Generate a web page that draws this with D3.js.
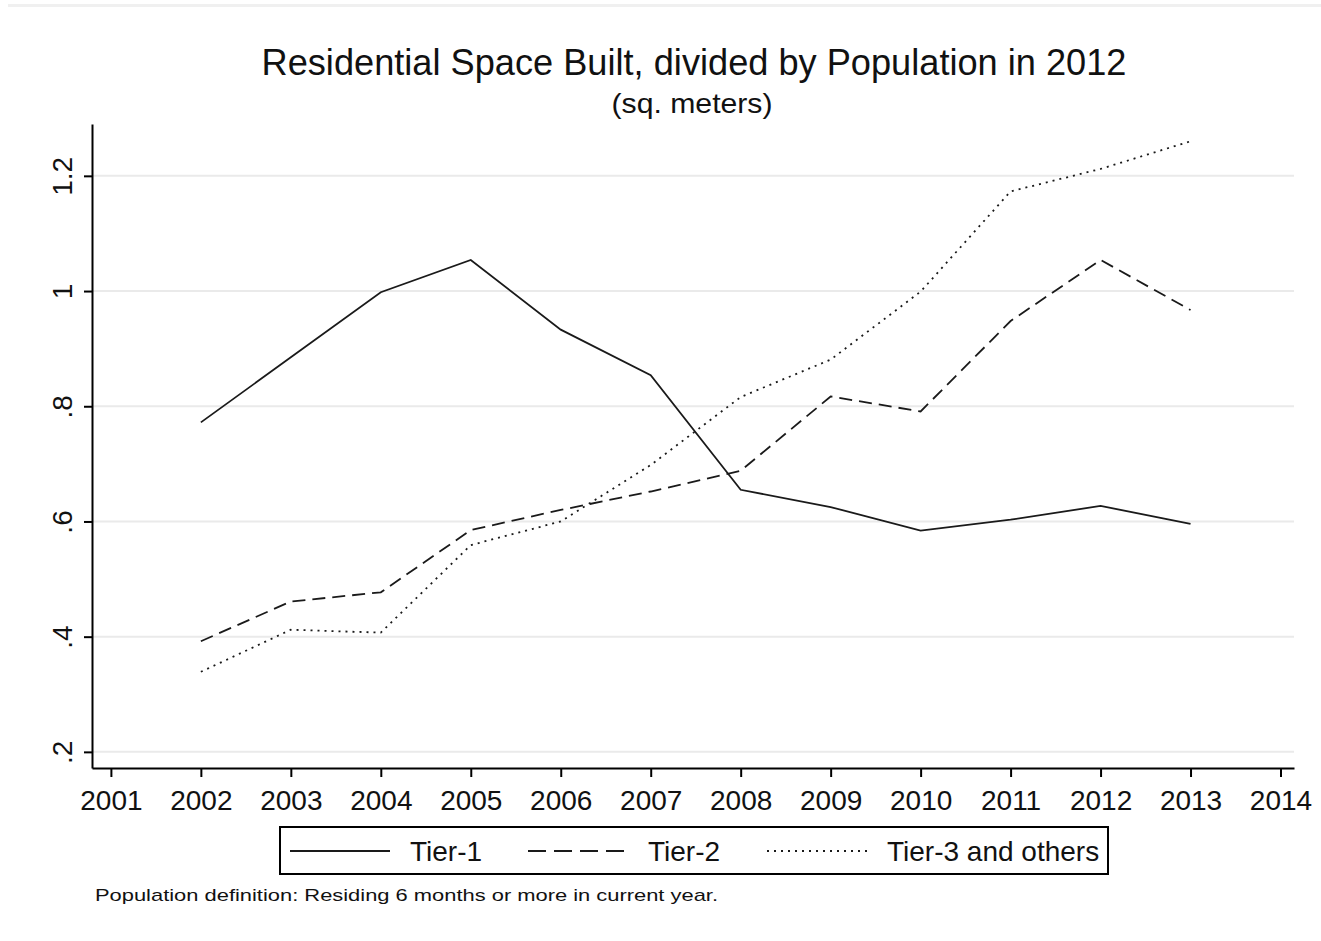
<!DOCTYPE html>
<html>
<head>
<meta charset="utf-8">
<script src="https://cdn.jsdelivr.net/npm/d3@7"></script>
<style>
  body { margin: 0; background: #fff; }
  svg { display: block; font-family: "Liberation Sans", Arial, sans-serif; }
</style>
</head>
<body>
<svg id="chart" width="1321" height="941"></svg>
<script>
const years = [2002, 2003, 2004, 2005, 2006, 2007, 2008, 2009, 2010, 2011, 2012, 2013];
const tier1 = [0.772, 0.885, 0.998, 1.054, 0.933, 0.854, 0.655, 0.625, 0.584, 0.603, 0.627, 0.596];
const tier2 = [0.392, 0.461, 0.477, 0.585, 0.620, 0.652, 0.688, 0.817, 0.791, 0.948, 1.054, 0.967];
const tier3 = [0.339, 0.412, 0.407, 0.559, 0.600, 0.698, 0.816, 0.881, 0.999, 1.173, 1.212, 1.260];
const seriesNames = ["Tier-1", "Tier-2", "Tier-3 and others"];
const xTicks = d3.range(2001, 2015);
const yTicks = [0.2, 0.4, 0.6, 0.8, 1, 1.2];
const yTickLabels = [".2", ".4", ".6", ".8", "1", "1.2"];

const dashes = [null, "13,7", "2,5"];

const svg = d3.select("#chart");

// faint band at the very top
svg.append("rect")
    .attr("x", 8).attr("y", 4).attr("width", 1313).attr("height", 3)
    .attr("fill", "#f0f0f0");

const x = d3.scaleLinear().domain([2000.79, 2014.15]).range([92, 1294]);
const y = d3.scaleLinear().domain([0.172, 1.29]).range([768, 124]);

// title
svg.append("text")
    .attr("x", 694).attr("y", 75)
    .attr("text-anchor", "middle")
    .attr("font-size", 36)
    .attr("fill", "#111")
    .attr("textLength", 865)
    .attr("lengthAdjust", "spacingAndGlyphs")
    .text("Residential Space Built, divided by Population in 2012");
svg.append("text")
    .attr("x", 692).attr("y", 113)
    .attr("text-anchor", "middle")
    .attr("font-size", 28)
    .attr("fill", "#111")
    .attr("textLength", 161)
    .attr("lengthAdjust", "spacingAndGlyphs")
    .text("(sq. meters)");

// gridlines
svg.append("g")
    .selectAll("line")
    .data(yTicks)
    .enter()
    .append("line")
    .attr("x1", 93).attr("x2", 1294)
    .attr("y1", d => y(d)).attr("y2", d => y(d))
    .attr("stroke", "#eaeaea")
    .attr("stroke-width", 2);

// y axis
const yAxis = svg.append("g")
    .attr("transform", "translate(92,0)")
    .call(d3.axisLeft(y).tickValues(yTicks).tickSize(8).tickSizeOuter(0)
        .tickFormat((d, i) => yTickLabels[i]));
yAxis.select(".domain").attr("stroke", "#000").attr("stroke-width", 2);
yAxis.selectAll(".tick line").attr("stroke", "#000").attr("stroke-width", 2);
yAxis.selectAll(".tick text")
    .attr("font-size", 28)
    .attr("fill", "#111")
    .attr("font-family", "'Liberation Sans', Arial, sans-serif")
    .attr("text-anchor", "middle")
    .attr("x", 0).attr("dy", null)
    .attr("transform", "translate(-20,0) rotate(-90)")
    .attr("y", 0);

// x axis
const xAxis = svg.append("g")
    .attr("transform", "translate(0,768)")
    .call(d3.axisBottom(x).tickValues(xTicks).tickSize(9).tickSizeOuter(0)
        .tickFormat(d3.format("d")));
xAxis.select(".domain").attr("stroke", "#000").attr("stroke-width", 2);
xAxis.selectAll(".tick line").attr("stroke", "#000").attr("stroke-width", 2);
xAxis.selectAll(".tick text")
    .attr("font-size", 28)
    .attr("fill", "#111")
    .attr("font-family", "'Liberation Sans', Arial, sans-serif")
    .attr("y", 22);

// lines
const line = d3.line()
    .x((d, i) => x(years[i]))
    .y(d => y(d));

[tier1, tier2, tier3].forEach((s, k) => {
    svg.append("path")
        .datum(s)
        .attr("d", line)
        .attr("fill", "none")
        .attr("stroke", "#1a1a1a")
        .attr("stroke-width", 1.8)
        .attr("stroke-dasharray", dashes[k]);
});

// legend
const legend = svg.append("g");
legend.append("rect")
    .attr("x", 280).attr("y", 827).attr("width", 828).attr("height", 47)
    .attr("fill", "#fff").attr("stroke", "#000").attr("stroke-width", 2);
const legX = [290, 528, 767];
const legTextX = [410, 648, 887];
seriesNames.forEach((name, k) => {
    legend.append("line")
        .attr("x1", legX[k]).attr("x2", legX[k] + 100)
        .attr("y1", 851).attr("y2", 851)
        .attr("stroke", "#1a1a1a")
        .attr("stroke-width", 1.8)
        .attr("stroke-dasharray", k === 1 ? "18,8" : dashes[k]);
    legend.append("text")
        .attr("x", legTextX[k]).attr("y", 861)
        .attr("font-size", 28)
        .attr("fill", "#111")
        .text(name);
});

// note
svg.append("text")
    .attr("x", 95).attr("y", 901)
    .attr("font-size", 17)
    .attr("fill", "#111")
    .attr("textLength", 623)
    .attr("lengthAdjust", "spacingAndGlyphs")
    .text("Population definition: Residing 6 months or more in current year.");
</script>
</body>
</html>
